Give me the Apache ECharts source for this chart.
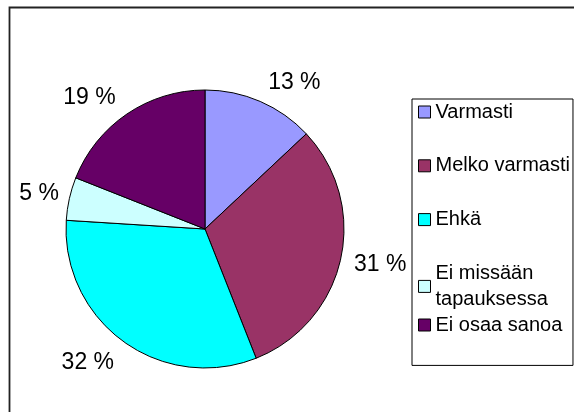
<!DOCTYPE html>
<html>
<head>
<meta charset="utf-8">
<script src="https://cdn.jsdelivr.net/npm/echarts@6/dist/echarts.min.js"></script>
<style>
  html, body { margin: 0; padding: 0; background: #fff; }
  #chart { width: 574px; height: 412px; }
</style>
</head>
<body>
<div id="chart"></div>
<script>
var categories = ["Varmasti", "Melko varmasti", "Ehkä", "Ei missään tapauksessa", "Ei osaa sanoa"];
var percents = [13, 31, 32, 5, 19];
var sliceColors = ["#9999FF", "#993366", "#00FFFF", "#CCFFFF", "#660066"];

var myChart = echarts.init(document.getElementById("chart"));

// label placement tweaks so the outside labels sit like Excel's
var labelLines = [
  { length: 20, length2: 0 },
  { length: 24, length2: -10 },
  { length: 26, length2: -6 },
  { length: 22, length2: -11 },
  { length: 20, length2: 0 }
];

var pieData = categories.map(function (name, i) {
  return {
    name: name,
    value: percents[i],
    itemStyle: { color: sliceColors[i] },
    labelLine: labelLines[i]
  };
});

var legendText = {
  color: "#000",
  fontSize: 20,
  lineHeight: 26,
  fontFamily: "Liberation Sans, Arial, sans-serif"
};

function legendName(name) {
  return name.replace("missään ", "missään\n");
}

var option = {
  animation: false,
  backgroundColor: "#fff",
  textStyle: { fontFamily: "Liberation Sans, Arial, sans-serif" },
  // outer frame (runs off the right and bottom edge like the original)
  graphic: [
    {
      type: "rect",
      shape: { x: 9.5, y: 7.5, width: 700, height: 500 },
      style: { fill: null, stroke: "#222", lineWidth: 1.8 },
      silent: true
    }
  ],
  legend: [
    {
      // boxed legend, first four entries
      orient: "vertical",
      left: 412,
      top: 99,
      padding: [0, 3, 53, 6],
      itemGap: 27.8,
      itemWidth: 12,
      itemHeight: 12,
      icon: "rect",
      borderColor: "#000",
      borderWidth: 1,
      backgroundColor: "#fff",
      selectedMode: false,
      itemStyle: { borderColor: "#000", borderWidth: 1 },
      formatter: legendName,
      textStyle: legendText,
      data: categories.slice(0, 4)
    },
    {
      // last entry, kept on the regular row spacing inside the same box
      orient: "vertical",
      left: 418,
      top: 312,
      padding: 0,
      itemWidth: 12,
      itemHeight: 12,
      icon: "rect",
      selectedMode: false,
      itemStyle: { borderColor: "#000", borderWidth: 1 },
      textStyle: legendText,
      data: categories.slice(4)
    }
  ],
  series: [
    {
      type: "pie",
      center: [205, 229],
      radius: 139,
      startAngle: 90,
      clockwise: true,
      avoidLabelOverlap: false,
      emphasis: { disabled: true },
      itemStyle: { borderColor: "#000", borderWidth: 1 },
      label: {
        show: true,
        position: "outside",
        formatter: "{c} %",
        color: "#000",
        fontSize: 23,
        fontFamily: "Liberation Sans, Arial, sans-serif",
        distanceToLabelLine: 0
      },
      labelLine: { show: false, length: 20, length2: 0 },
      data: pieData
    }
  ]
};

option && myChart.setOption(option);
</script>
</body>
</html>
